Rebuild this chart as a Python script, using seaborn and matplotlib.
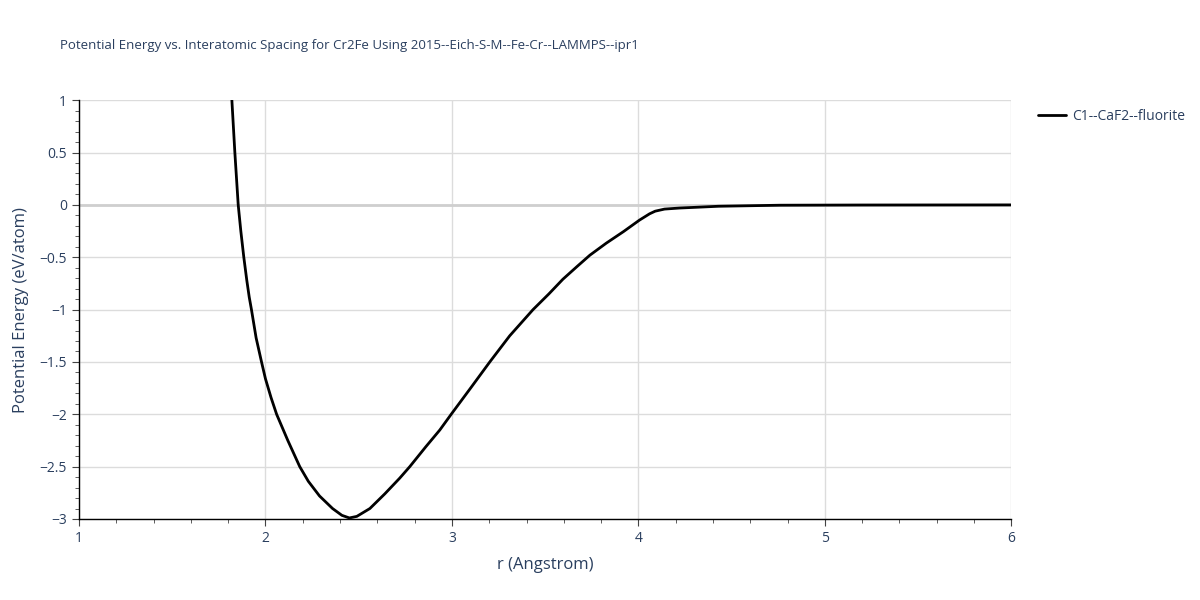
import numpy as np
import pandas as pd
import matplotlib
matplotlib.use("Agg")
import matplotlib.pyplot as plt
import seaborn as sns
from matplotlib.ticker import MultipleLocator

# values
r_vals = [1.82, 1.836, 1.854, 1.868, 1.884, 1.90, 1.913, 1.925, 1.95, 1.979,
          2.0, 2.03, 2.06, 2.12, 2.184, 2.23, 2.29, 2.36, 2.41, 2.45, 2.49,
          2.56, 2.64, 2.72, 2.774, 2.86, 2.935, 2.996, 3.10, 3.203, 3.31,
          3.435, 3.52, 3.595, 3.67, 3.74, 3.828, 3.92, 4.006, 4.06, 4.09,
          4.14, 4.22, 4.43, 4.76, 5.2, 6.0]
energy = [1.0, 0.5, 0.0, -0.25, -0.5, -0.72, -0.88, -1.0, -1.27, -1.5,
          -1.66, -1.84, -2.0, -2.25, -2.5, -2.64, -2.78, -2.90, -2.965, -2.99,
          -2.975, -2.90, -2.76, -2.61, -2.5, -2.31, -2.15, -2.0, -1.75, -1.5,
          -1.25, -1.0, -0.85, -0.71, -0.59, -0.48, -0.365, -0.255, -0.145, -0.085,
          -0.06, -0.04, -0.03, -0.013, -0.003, -0.001, 0.0]
series_name = "C1--CaF2--fluorite"

df = pd.DataFrame({"r": r_vals, "E": energy, "structure": series_name})

sns.set_style("white")
plt.rcParams['font.family'] = ['Open Sans', 'DejaVu Sans']
txt = "#2a3f5f"

fig = plt.figure(figsize=(12, 6), dpi=100)
ax = fig.add_axes([0.0658, 0.135, 0.777, 0.698])

sns.lineplot(data=df, x="r", y="E", hue="structure", palette=["black"],
             linewidth=2, ax=ax, sort=False)

ax.set_xlim(1, 6)
ax.set_ylim(-3, 1)
ax.xaxis.set_major_locator(MultipleLocator(1))
ax.xaxis.set_minor_locator(MultipleLocator(0.2))
ax.yaxis.set_major_locator(MultipleLocator(0.5))
ax.yaxis.set_minor_locator(MultipleLocator(0.1))
ax.grid(True, which="major", color="#dcdcdc", linewidth=1)
ax.axhline(0, color="#cfcfcf", linewidth=2, zorder=1)
ax.set_axisbelow(True)

for side in ["top", "right"]:
    ax.spines[side].set_visible(False)
for side in ["left", "bottom"]:
    ax.spines[side].set_color("black")
    ax.spines[side].set_linewidth(1)

ax.tick_params(axis="both", which="major", direction="out", length=5,
               color="#444444", labelcolor=txt, labelsize=10, bottom=True, left=True)
ax.tick_params(axis="both", which="minor", direction="out", length=3,
               color="#444444", bottom=True, left=True)
ax.set_yticks([1, 0.5, 0, -0.5, -1, -1.5, -2, -2.5, -3])
ax.set_yticklabels(["1", "0.5", "0", "\u22120.5", "\u22121", "\u22121.5",
                    "\u22122", "\u22122.5", "\u22123"])

ax.set_xlabel("r (Angstrom)", color=txt, fontsize=12, labelpad=8)
ax.set_ylabel("Potential Energy (eV/atom)", color=txt, fontsize=12, labelpad=8)

fig.text(0.05, 0.925, "Potential Energy vs. Interatomic Spacing for Cr2Fe Using 2015--Eich-S-M--Fe-Cr--LAMMPS--ipr1",
         color=txt, fontsize=9.5, va="center")

leg = ax.legend(loc="upper left", bbox_to_anchor=(1.015, 1.008), frameon=False,
                fontsize=10, handlelength=2.0, handletextpad=0.5)
for t in leg.get_texts():
    t.set_color(txt)

fig.savefig("out.png", dpi=100)
